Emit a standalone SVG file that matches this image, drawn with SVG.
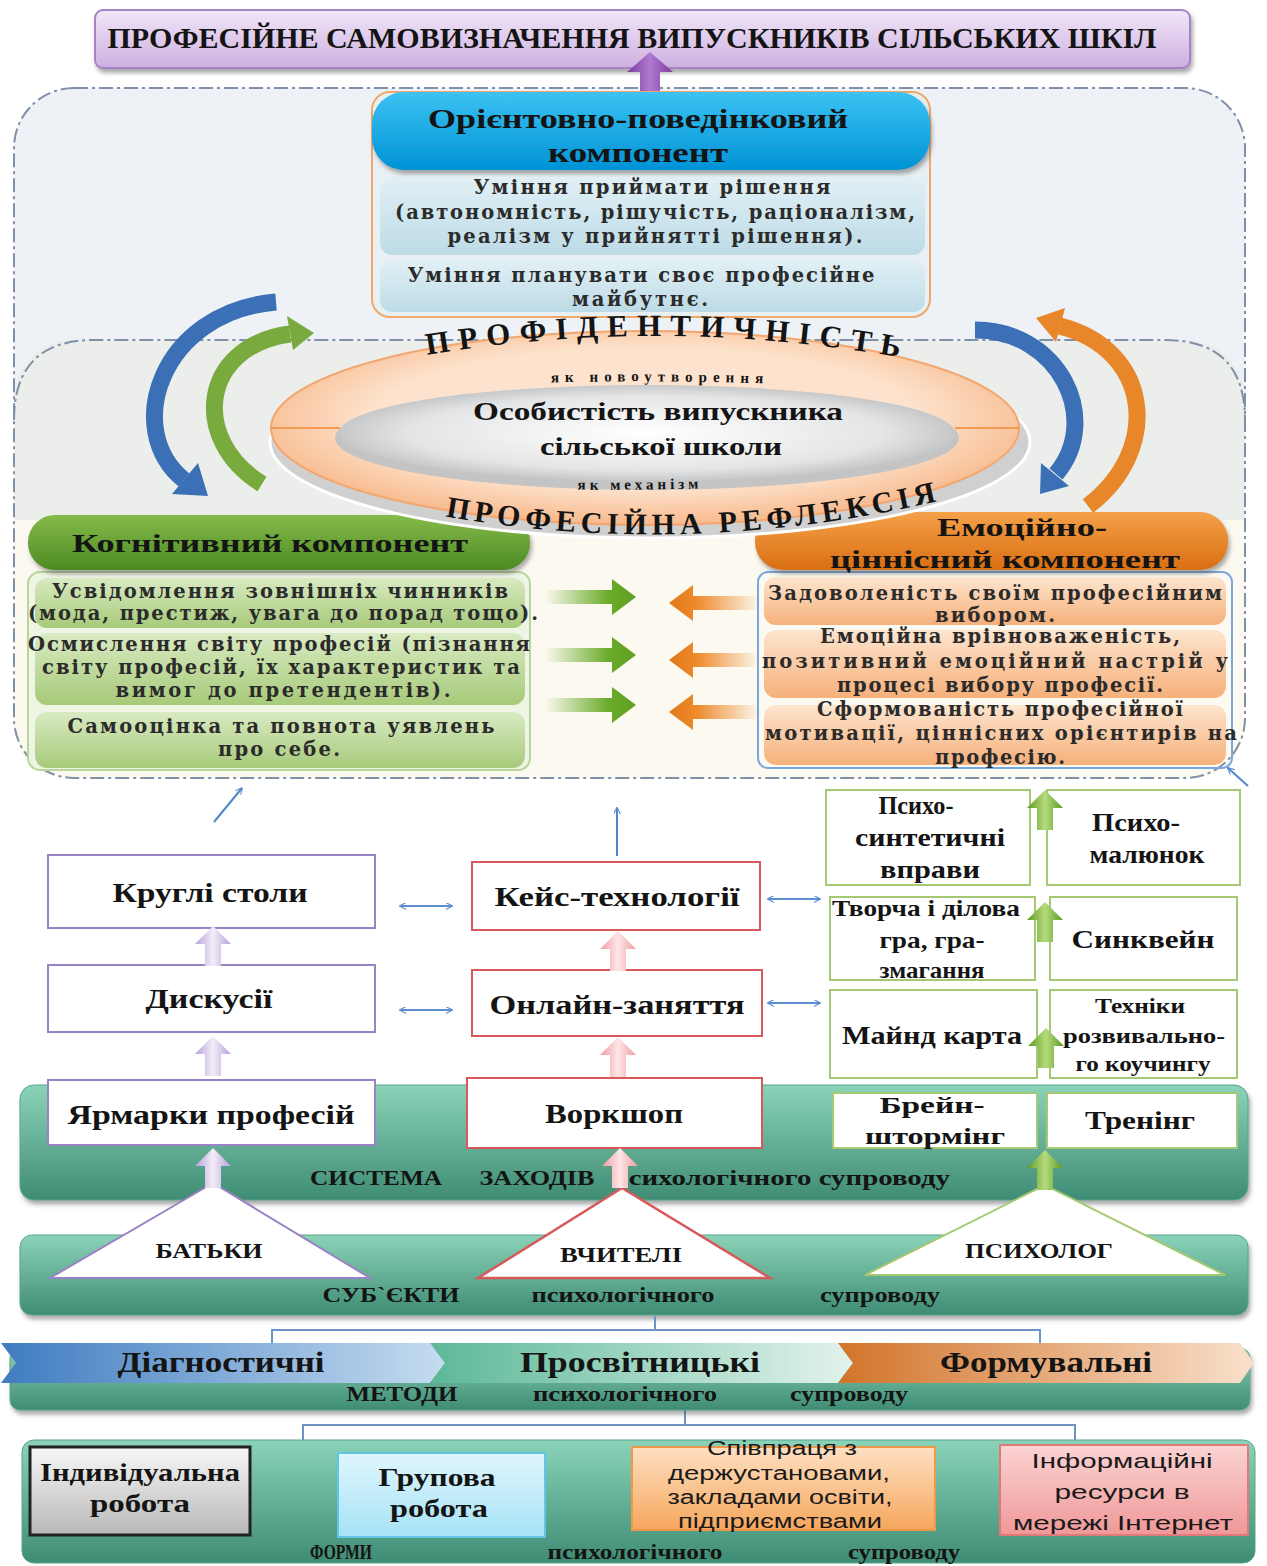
<svg xmlns="http://www.w3.org/2000/svg" xmlns:xlink="http://www.w3.org/1999/xlink" width="1267" height="1566" viewBox="0 0 1267 1566">
<style>
.t{font-family:"Liberation Serif","DejaVu Serif",serif;font-weight:bold;fill:#141414;text-anchor:middle}
.w{font-family:"DejaVu Serif","Liberation Serif",serif;font-weight:bold;fill:#2b2b2b;text-anchor:middle;font-size:19.5px}
.s{font-family:"Liberation Sans","Noto Sans",sans-serif;fill:#1a1a1a;text-anchor:middle}
.box{fill:#fff;stroke-width:2}
.dbl{stroke:#5b8fd0;stroke-width:2;fill:none;marker-start:url(#ah);marker-end:url(#ah)}
.thin{stroke:#4f86c8;stroke-width:2;fill:none;marker-end:url(#ah)}
.brk{stroke:#6f93c4;stroke-width:2;fill:none}
.dash{fill:none;stroke:#7f90a8;stroke-width:2;stroke-dasharray:14 4 3 4}
</style>
<defs>
<marker id="ah" viewBox="0 0 10 10" refX="9" refY="5" markerWidth="7" markerHeight="7" orient="auto-start-reverse" markerUnits="userSpaceOnUse"><path d="M0 0 L10 5 L0 10" fill="none" stroke="#5b8fd0" stroke-width="1.6"/></marker>
<filter id="sh" x="-5%" y="-10%" width="110%" height="130%"><feDropShadow dx="2" dy="4" stdDeviation="2" flood-color="#555" flood-opacity="0.5"/></filter>
<linearGradient id="gTitle" x1="0" y1="0" x2="0" y2="1"><stop offset="0" stop-color="#f1e6f8"/><stop offset="1" stop-color="#cdb0e1"/></linearGradient>
<linearGradient id="gPurple" x1="0" y1="0" x2="1" y2="0"><stop offset="0" stop-color="#7b3c9e"/><stop offset="0.5" stop-color="#b07ad0"/><stop offset="1" stop-color="#7b3c9e"/></linearGradient>
<linearGradient id="gBlueHead" x1="0" y1="0" x2="0" y2="1"><stop offset="0" stop-color="#3cc2f3"/><stop offset="1" stop-color="#0093d5"/></linearGradient>
<linearGradient id="gLightBlue" x1="0" y1="0" x2="0" y2="1"><stop offset="0" stop-color="#e2f0f5"/><stop offset="1" stop-color="#bcdbe7"/></linearGradient>
<radialGradient id="gRing" cx="0.5" cy="0.45" r="0.6"><stop offset="0.6" stop-color="#fde3cd"/><stop offset="1" stop-color="#f6ae7b"/></radialGradient>
<radialGradient id="gCore" cx="0.5" cy="0.5" r="0.55"><stop offset="0" stop-color="#ffffff"/><stop offset="0.7" stop-color="#e4e5e6"/><stop offset="1" stop-color="#b9bbbd"/></radialGradient>
<linearGradient id="gGreenHead" x1="0" y1="0" x2="0" y2="1"><stop offset="0" stop-color="#86bb4a"/><stop offset="1" stop-color="#4b8a22"/></linearGradient>
<linearGradient id="gGreenItem" x1="0" y1="0" x2="0" y2="1"><stop offset="0" stop-color="#d9eac2"/><stop offset="1" stop-color="#a7ca7a"/></linearGradient>
<linearGradient id="gOrangeHead" x1="0" y1="0" x2="0" y2="1"><stop offset="0" stop-color="#f5a14a"/><stop offset="1" stop-color="#d96e12"/></linearGradient>
<linearGradient id="gOrangeItem" x1="0" y1="0" x2="0" y2="1"><stop offset="0" stop-color="#fde5cf"/><stop offset="1" stop-color="#f6b07a"/></linearGradient>
<linearGradient id="gTeal" x1="0" y1="0" x2="0" y2="1"><stop offset="0" stop-color="#8ad3b8"/><stop offset="1" stop-color="#3f8c74"/></linearGradient>
<linearGradient id="gArrG" x1="0" y1="0" x2="1" y2="0"><stop offset="0" stop-color="#6aab2a" stop-opacity="0"/><stop offset="0.7" stop-color="#6aab2a"/><stop offset="1" stop-color="#5f9f22"/></linearGradient>
<linearGradient id="gArrO" x1="1" y1="0" x2="0" y2="0"><stop offset="0" stop-color="#ee8a2c" stop-opacity="0"/><stop offset="0.7" stop-color="#ee8a2c"/><stop offset="1" stop-color="#e07a1a"/></linearGradient>
<linearGradient id="gLav" x1="0" y1="0" x2="1" y2="0"><stop offset="0" stop-color="#b7a0d8"/><stop offset="0.5" stop-color="#f3edf9"/><stop offset="1" stop-color="#b7a0d8"/></linearGradient>
<linearGradient id="gPink" x1="0" y1="0" x2="1" y2="0"><stop offset="0" stop-color="#f19ba0"/><stop offset="0.5" stop-color="#fde6e7"/><stop offset="1" stop-color="#f19ba0"/></linearGradient>
<linearGradient id="gGrn" x1="0" y1="0" x2="1" y2="0"><stop offset="0" stop-color="#5d9a22"/><stop offset="0.5" stop-color="#b5db7c"/><stop offset="1" stop-color="#5d9a22"/></linearGradient>
<linearGradient id="gDiag" x1="0" y1="0" x2="1" y2="0"><stop offset="0" stop-color="#3f7cc0"/><stop offset="1" stop-color="#c5dcf0"/></linearGradient>
<linearGradient id="gProsv" x1="0" y1="0" x2="1" y2="0"><stop offset="0" stop-color="#5cb898"/><stop offset="1" stop-color="#e3f3ec"/></linearGradient>
<linearGradient id="gForm" x1="0" y1="0" x2="1" y2="0"><stop offset="0" stop-color="#d2742a"/><stop offset="1" stop-color="#f9e0cc"/></linearGradient>
<linearGradient id="gGray" x1="0" y1="0" x2="0" y2="1"><stop offset="0" stop-color="#f7f7f7"/><stop offset="1" stop-color="#b8b8b8"/></linearGradient>
<linearGradient id="gCyan" x1="0" y1="0" x2="0" y2="1"><stop offset="0" stop-color="#dff6fd"/><stop offset="1" stop-color="#a6e2f6"/></linearGradient>
<linearGradient id="gOrgBox" x1="0" y1="0" x2="0" y2="1"><stop offset="0" stop-color="#fee0c2"/><stop offset="1" stop-color="#f6a65d"/></linearGradient>
<linearGradient id="gPinkBox" x1="0" y1="0" x2="0" y2="1"><stop offset="0" stop-color="#fbd3d3"/><stop offset="1" stop-color="#f09898"/></linearGradient>
<path id="upA" d="M -8 40 L 8 40 L 8 18 L 18 18 L 0 0 L -18 18 L -8 18 Z"/>
<path id="arcTop" d="M 420 356 Q 665 314 915 360"/>
<path id="arcNov" d="M 470 385 Q 660 377 850 387"/>
<path id="arcMech" d="M 530 489 Q 640 491 750 487"/>
<path id="arcBot" d="M 432 514 Q 690 562 955 497"/>
</defs>

<rect width="1267" height="1566" fill="#ffffff"/>

<g id="panel">
<rect x="14" y="88" width="1231" height="690" rx="60" fill="#eef2f6"/>
<rect x="14" y="340" width="1231" height="438" rx="60" fill="#ebeeea"/>
<path d="M 14 520 L 1245 520 L 1245 718 Q 1245 778 1185 778 L 74 778 Q 14 778 14 718 Z" fill="#fcf9f0"/>
<rect x="14" y="88" width="1231" height="690" rx="60" class="dash"/>
<path d="M 14 420 Q 14 340 94 340 L 1165 340 Q 1245 340 1245 420" class="dash"/>
</g>

<g id="title">
<rect x="95" y="10" width="1095" height="58" rx="8" fill="url(#gTitle)" stroke="#a584c6" stroke-width="2" filter="url(#sh)"/>
<text class="t" x="632" y="48" font-size="29" textLength="1049" lengthAdjust="spacingAndGlyphs">ПРОФЕСІЙНЕ САМОВИЗНАЧЕННЯ ВИПУСКНИКІВ СІЛЬСЬКИХ ШКІЛ</text>
</g>

<g id="connectors">
<path d="M 640 98 L 660 98 L 660 72 L 673 72 L 650 52 L 627 72 L 640 72 Z" fill="url(#gPurple)"/>
<path d="M 276 302 C 160 312 122 430 184 480" fill="none" stroke="#3b70b6" stroke-width="17"/>
<polygon points="172,494 198,463 208,496" fill="#3b70b6"/>
<path d="M 262 484 C 190 440 200 346 290 334" fill="none" stroke="#79aa3e" stroke-width="17"/>
<polygon points="293,350 287,316 314,333" fill="#79aa3e"/>
<path d="M 1088 506 C 1162 450 1152 350 1060 326" fill="none" stroke="#e8862a" stroke-width="17"/>
<polygon points="1065,308 1056,342 1036,318" fill="#e8862a"/>
<path d="M 975 330 C 1060 330 1102 420 1056 474" fill="none" stroke="#3b70b6" stroke-width="17"/>
<polygon points="1069,486 1041,463 1040,494" fill="#3b70b6"/>
<polygon points="545,590 612,590 612,579 636,597 612,615 612,604 545,604" fill="url(#gArrG)"/>
<polygon points="545,648 612,648 612,637 636,655 612,673 612,662 545,662" fill="url(#gArrG)"/>
<polygon points="545,698 612,698 612,687 636,705 612,723 612,712 545,712" fill="url(#gArrG)"/>
<polygon points="760,596 693,596 693,585 669,603 693,621 693,610 760,610" fill="url(#gArrO)"/>
<polygon points="760,653 693,653 693,642 669,660 693,678 693,667 760,667" fill="url(#gArrO)"/>
<polygon points="760,705 693,705 693,694 669,712 693,730 693,719 760,719" fill="url(#gArrO)"/>
<line x1="214" y1="822" x2="242" y2="788" class="thin"/>
<line x1="617" y1="856" x2="617" y2="808" class="thin"/>
<line x1="1248" y1="786" x2="1228" y2="768" class="thin"/>
<line x1="400" y1="906" x2="452" y2="906" class="dbl"/>
<line x1="400" y1="1010" x2="452" y2="1010" class="dbl"/>
<line x1="400" y1="1119" x2="452" y2="1119" class="dbl"/>
<line x1="768" y1="899" x2="820" y2="899" class="dbl"/>
<line x1="768" y1="1003" x2="820" y2="1003" class="dbl"/>
<line x1="768" y1="1117" x2="820" y2="1117" class="dbl"/>
<line x1="268" y1="1490" x2="326" y2="1490" class="dbl"/>
<line x1="560" y1="1493" x2="616" y2="1493" class="dbl"/>
<line x1="940" y1="1490" x2="992" y2="1490" class="dbl"/>
</g>

<g id="orient">
<rect x="372" y="92" width="558" height="225" rx="18" fill="#e8f0f3" stroke="#f0a868" stroke-width="2"/>
<rect x="372" y="92" width="558" height="78" rx="32" fill="url(#gBlueHead)" filter="url(#sh)"/>
<text class="t" x="638" y="128" font-size="27" textLength="420" lengthAdjust="spacingAndGlyphs">Орієнтовно-поведінковий</text>
<text class="t" x="638" y="162" font-size="27" textLength="180" lengthAdjust="spacingAndGlyphs">компонент</text>
<rect x="380" y="177" width="545" height="78" rx="12" fill="url(#gLightBlue)"/>
<text class="w" x="652" y="194" textLength="357">Уміння приймати рішення</text>
<text class="w" x="655" y="219" textLength="520">(автономність, рішучість, раціоналізм,</text>
<text class="w" x="655" y="243" textLength="415">реалізм у прийнятті рішення).</text>
<rect x="380" y="260" width="545" height="52" rx="12" fill="url(#gLightBlue)"/>
<text class="w" x="641" y="282" textLength="467">Уміння планувати своє професійне</text>
<text class="w" x="640" y="306" textLength="136">майбутнє.</text>
</g>

<g id="cognitive">
<rect x="28" y="572" width="502" height="198" rx="12" fill="#eef5e4" stroke="#b9d69a" stroke-width="2"/>
<rect x="28" y="515" width="502" height="55" rx="27" fill="url(#gGreenHead)" filter="url(#sh)"/>
<text class="t" x="270" y="552" font-size="25" textLength="396" lengthAdjust="spacingAndGlyphs">Когнітивний компонент</text>
<rect x="35" y="578" width="490" height="50" rx="12" fill="url(#gGreenItem)"/>
<text class="w" x="280" y="598" textLength="456">Усвідомлення зовнішніх чинників</text>
<text class="w" x="283" y="620" textLength="510">(мода, престиж, увага до порад тощо).</text>
<rect x="35" y="633" width="490" height="72" rx="12" fill="url(#gGreenItem)"/>
<text class="w" x="279" y="651" textLength="502">Осмислення світу професій (пізнання</text>
<text class="w" x="281" y="674" textLength="478">світу професій, їх характеристик та</text>
<text class="w" x="283" y="697" textLength="335">вимог до претендентів).</text>
<rect x="35" y="712" width="490" height="56" rx="12" fill="url(#gGreenItem)"/>
<text class="w" x="281" y="733" textLength="427">Самооцінка та повнота уявлень</text>
<text class="w" x="279" y="756" textLength="122">про себе.</text>
</g>

<g id="emotional">
<rect x="758" y="572" width="474" height="196" rx="10" fill="none" stroke="#7aa7dc" stroke-width="2"/>
<rect x="755" y="512" width="473" height="58" rx="28" fill="url(#gOrangeHead)" filter="url(#sh)"/>
<text class="t" x="1022" y="536" font-size="25" textLength="170" lengthAdjust="spacingAndGlyphs">Емоційно-</text>
<text class="t" x="1005" y="568" font-size="25" textLength="350" lengthAdjust="spacingAndGlyphs">ціннісний компонент</text>
<rect x="764" y="577" width="462" height="48" rx="12" fill="url(#gOrangeItem)"/>
<text class="w" x="995" y="600" textLength="454">Задоволеність своїм професійним</text>
<text class="w" x="995" y="622" textLength="120">вибором.</text>
<rect x="764" y="630" width="462" height="68" rx="12" fill="url(#gOrangeItem)"/>
<text class="w" x="1000" y="643" textLength="360">Емоційна врівноваженість,</text>
<text class="w" x="995" y="668" textLength="466">позитивний емоційний настрій у</text>
<text class="w" x="1000" y="692" textLength="326">процесі вибору професії.</text>
<rect x="764" y="705" width="462" height="60" rx="12" fill="url(#gOrangeItem)"/>
<text class="w" x="1000" y="716" textLength="366">Сформованість професійної</text>
<text class="w" x="1001" y="740" textLength="472">мотивації, ціннісних орієнтирів на</text>
<text class="w" x="1000" y="764" textLength="130">професію.</text>
</g>

<g id="core">
<ellipse cx="650" cy="442" rx="380" ry="96" fill="#d0d0d0" stroke="#ffffff" stroke-width="3"/>
<ellipse cx="645" cy="428" rx="374" ry="97" fill="url(#gRing)" stroke="#f3a66f" stroke-width="2"/>
<line x1="271" y1="428" x2="340" y2="428" stroke="#f39a55" stroke-width="2"/>
<line x1="955" y1="428" x2="1019" y2="428" stroke="#f39a55" stroke-width="2"/>
<ellipse cx="647" cy="438" rx="312" ry="52" fill="#c4c4c4"/>
<ellipse cx="647" cy="433" rx="308" ry="48" fill="url(#gCore)"/>
<text class="t" x="658" y="420" font-size="26" textLength="370" lengthAdjust="spacingAndGlyphs">Особистість випускника</text>
<text class="t" x="661" y="455" font-size="26" textLength="242" lengthAdjust="spacingAndGlyphs">сільської школи</text>
<text class="t" font-size="31" letter-spacing="9"><textPath href="#arcTop" startOffset="50%">ПРОФІДЕНТИЧНІСТЬ</textPath></text>
<text class="t" font-size="15" letter-spacing="6"><textPath href="#arcNov" startOffset="50%">як новоутворення</textPath></text>
<text class="t" font-size="15" letter-spacing="4"><textPath href="#arcMech" startOffset="50%">як механізм</textPath></text>
<text class="t" font-size="30" letter-spacing="5"><textPath href="#arcBot" startOffset="50%">ПРОФЕСІЙНА РЕФЛЕКСІЯ</textPath></text>
</g>

<g id="band-system">
<rect x="20" y="1085" width="1228" height="115" rx="14" fill="url(#gTeal)" stroke="#5aa58a" filter="url(#sh)"/>
<text class="t" x="376" y="1185" font-size="22" textLength="132" lengthAdjust="spacingAndGlyphs">СИСТЕМА</text>
<text class="t" x="537" y="1185" font-size="22" textLength="115" lengthAdjust="spacingAndGlyphs">ЗАХОДІВ</text>
<text class="t" x="781" y="1185" font-size="22" textLength="338" lengthAdjust="spacingAndGlyphs">психологічного супроводу</text>
</g>

<g id="band-subjects">
<rect x="20" y="1235" width="1228" height="80" rx="12" fill="url(#gTeal)" stroke="#5aa58a" filter="url(#sh)"/>
<text class="t" x="391" y="1302" font-size="22" textLength="137" lengthAdjust="spacingAndGlyphs">СУБ`ЄКТИ</text>
<text class="t" x="623" y="1302" font-size="22" textLength="183" lengthAdjust="spacingAndGlyphs">психологічного</text>
<text class="t" x="880" y="1302" font-size="22" textLength="120" lengthAdjust="spacingAndGlyphs">супроводу</text>
</g>

<g id="kruhli"><rect class="box" x="48" y="855" width="327" height="73" stroke="#9a82c6"/><text class="t" x="210" y="902" font-size="27" textLength="195" lengthAdjust="spacingAndGlyphs">Круглі столи</text></g>
<g id="dyskusii"><rect class="box" x="48" y="965" width="327" height="67" stroke="#9a82c6"/><text class="t" x="209" y="1008" font-size="27" textLength="127" lengthAdjust="spacingAndGlyphs">Дискусії</text></g>
<g id="yarmarky"><rect class="box" x="48" y="1080" width="327" height="65" stroke="#9a82c6"/><text class="t" x="211" y="1124" font-size="27" textLength="287" lengthAdjust="spacingAndGlyphs">Ярмарки професій</text></g>
<g id="keis"><rect class="box" x="472" y="862" width="288" height="68" stroke="#d9585a"/><text class="t" x="617" y="906" font-size="27" textLength="245" lengthAdjust="spacingAndGlyphs">Кейс-технології</text></g>
<g id="online"><rect class="box" x="472" y="970" width="290" height="66" stroke="#d9585a"/><text class="t" x="617" y="1014" font-size="27" textLength="255" lengthAdjust="spacingAndGlyphs">Онлайн-заняття</text></g>
<g id="workshop"><rect class="box" x="467" y="1078" width="295" height="70" stroke="#d9585a"/><text class="t" x="614" y="1123" font-size="27" textLength="138" lengthAdjust="spacingAndGlyphs">Воркшоп</text></g>

<g id="psychosynth"><rect class="box" x="826" y="790" width="204" height="95" stroke="#a4c873"/>
<text class="t" x="916" y="814" font-size="25" textLength="75" lengthAdjust="spacingAndGlyphs">Психо-</text>
<text class="t" x="930" y="846" font-size="25" textLength="150" lengthAdjust="spacingAndGlyphs">синтетичні</text>
<text class="t" x="930" y="878" font-size="25" textLength="100" lengthAdjust="spacingAndGlyphs">вправи</text></g>
<g id="psychodraw"><rect class="box" x="1047" y="790" width="193" height="95" stroke="#a4c873"/>
<text class="t" x="1136" y="831" font-size="25" textLength="88" lengthAdjust="spacingAndGlyphs">Психо-</text>
<text class="t" x="1147" y="863" font-size="25" textLength="115" lengthAdjust="spacingAndGlyphs">малюнок</text></g>
<g id="game"><rect class="box" x="830" y="897" width="205" height="83" stroke="#a4c873"/>
<text class="t" x="926" y="916" font-size="23" textLength="188" lengthAdjust="spacingAndGlyphs">Творча і ділова</text>
<text class="t" x="932" y="948" font-size="23" textLength="105" lengthAdjust="spacingAndGlyphs">гра, гра-</text>
<text class="t" x="932" y="978" font-size="23" textLength="105" lengthAdjust="spacingAndGlyphs">змагання</text></g>
<g id="sinkwein"><rect class="box" x="1050" y="897" width="187" height="83" stroke="#a4c873"/>
<text class="t" x="1143" y="948" font-size="25" textLength="143" lengthAdjust="spacingAndGlyphs">Синквейн</text></g>
<g id="mindmap"><rect class="box" x="830" y="990" width="207" height="88" stroke="#a4c873"/>
<text class="t" x="932" y="1044" font-size="25" textLength="180" lengthAdjust="spacingAndGlyphs">Майнд карта</text></g>
<g id="coaching"><rect class="box" x="1050" y="990" width="187" height="88" stroke="#a4c873"/>
<text class="t" x="1140" y="1013" font-size="22" textLength="90" lengthAdjust="spacingAndGlyphs">Техніки</text>
<text class="t" x="1144" y="1043" font-size="22" textLength="162" lengthAdjust="spacingAndGlyphs">розвивально-</text>
<text class="t" x="1143" y="1071" font-size="22" textLength="135" lengthAdjust="spacingAndGlyphs">го коучингу</text></g>
<g id="brainstorm"><rect class="box" x="833" y="1093" width="204" height="55" stroke="#a4c873"/>
<text class="t" x="932" y="1113" font-size="24" textLength="105" lengthAdjust="spacingAndGlyphs">Брейн-</text>
<text class="t" x="935" y="1144" font-size="24" textLength="140" lengthAdjust="spacingAndGlyphs">штормінг</text></g>
<g id="training"><rect class="box" x="1047" y="1093" width="190" height="55" stroke="#a4c873"/>
<text class="t" x="1140" y="1129" font-size="25" textLength="110" lengthAdjust="spacingAndGlyphs">Тренінг</text></g>

<g id="batky"><polygon points="213,1183 50,1278 370,1278" fill="#fff" stroke="#9a82c6" stroke-width="2"/>
<text class="t" x="209" y="1258" font-size="22" textLength="107" lengthAdjust="spacingAndGlyphs">БАТЬКИ</text></g>
<g id="vchyteli"><polygon points="622,1188 478,1278 770,1278" fill="#fff" stroke="#d9585a" stroke-width="2.5"/>
<text class="t" x="621" y="1262" font-size="22" textLength="122" lengthAdjust="spacingAndGlyphs">ВЧИТЕЛІ</text></g>
<g id="psycholog"><polygon points="1045,1185 865,1275 1225,1275" fill="#fff" stroke="#a4c873" stroke-width="2"/>
<text class="t" x="1039" y="1258" font-size="22" textLength="148" lengthAdjust="spacingAndGlyphs">ПСИХОЛОГ</text></g>

<g id="block-arrows">
<use href="#upA" x="213" y="926" fill="url(#gLav)"/>
<use href="#upA" x="213" y="1036" fill="url(#gLav)"/>
<use href="#upA" x="213" y="1148" fill="url(#gLav)"/>
<use href="#upA" x="618" y="931" fill="url(#gPink)"/>
<use href="#upA" x="618" y="1037" fill="url(#gPink)"/>
<use href="#upA" x="620" y="1148" fill="url(#gPink)"/>
<use href="#upA" x="1045" y="790" fill="url(#gGrn)"/>
<use href="#upA" x="1045" y="902" fill="url(#gGrn)"/>
<use href="#upA" x="1046" y="1028" fill="url(#gGrn)"/>
<use href="#upA" x="1045" y="1150" fill="url(#gGrn)"/>
</g>

<g id="brackets">
<path d="M 655 1316 L 655 1330 M 272 1345 L 272 1330 L 1040 1330 L 1040 1345" class="brk"/>
<path d="M 685 1410 L 685 1425 M 303 1445 L 303 1425 L 1075 1425 L 1075 1445" class="brk"/>
</g>

<g id="band-methods">
<rect x="10" y="1348" width="1240" height="62" rx="10" fill="url(#gTeal)" stroke="#5aa58a" filter="url(#sh)"/>
<polygon points="1,1343 430,1343 445,1363 430,1383 1,1383 16,1363" fill="url(#gDiag)"/>
<polygon points="430,1343 838,1343 853,1363 838,1383 430,1383 445,1363" fill="url(#gProsv)"/>
<polygon points="838,1343 1240,1343 1254,1363 1240,1383 838,1383 853,1363" fill="url(#gForm)"/>
<text class="t" x="221" y="1372" font-size="29" textLength="207" lengthAdjust="spacingAndGlyphs">Діагностичні</text>
<text class="t" x="640" y="1372" font-size="29" textLength="240" lengthAdjust="spacingAndGlyphs">Просвітницькі</text>
<text class="t" x="1046" y="1372" font-size="29" textLength="212" lengthAdjust="spacingAndGlyphs">Формувальні</text>
<text class="t" x="402" y="1401" font-size="21" textLength="111" lengthAdjust="spacingAndGlyphs">МЕТОДИ</text>
<text class="t" x="625" y="1401" font-size="21" textLength="184" lengthAdjust="spacingAndGlyphs">психологічного</text>
<text class="t" x="849" y="1401" font-size="21" textLength="118" lengthAdjust="spacingAndGlyphs">супроводу</text>
</g>

<g id="band-forms">
<rect x="22" y="1440" width="1233" height="123" rx="12" fill="url(#gTeal)" stroke="#5aa58a"/>
<text class="t" x="341" y="1559" font-size="20" textLength="62" lengthAdjust="spacingAndGlyphs">ФОРМИ</text>
<text class="t" x="635" y="1559" font-size="20" textLength="175" lengthAdjust="spacingAndGlyphs">психологічного</text>
<text class="t" x="904" y="1559" font-size="20" textLength="112" lengthAdjust="spacingAndGlyphs">супроводу</text>
</g>
<g id="individual"><rect x="30" y="1447" width="220" height="88" fill="url(#gGray)" stroke="#222" stroke-width="3"/>
<text class="t" x="140" y="1481" font-size="25" textLength="200" lengthAdjust="spacingAndGlyphs">Індивідуальна</text>
<text class="t" x="140" y="1512" font-size="25" textLength="100" lengthAdjust="spacingAndGlyphs">робота</text></g>
<g id="group"><rect x="338" y="1453" width="207" height="84" fill="url(#gCyan)" stroke="#5fc6e8" stroke-width="2"/>
<text class="t" x="437" y="1486" font-size="25" textLength="117" lengthAdjust="spacingAndGlyphs">Групова</text>
<text class="t" x="439" y="1517" font-size="25" textLength="98" lengthAdjust="spacingAndGlyphs">робота</text></g>
<g id="cooperation"><rect x="632" y="1447" width="303" height="83" fill="url(#gOrgBox)" stroke="#ef9a4a" stroke-width="2"/>
<text class="s" x="782" y="1455" font-size="20" textLength="150" lengthAdjust="spacingAndGlyphs">Співпраця з</text>
<text class="s" x="779" y="1480" font-size="20" textLength="222" lengthAdjust="spacingAndGlyphs">держустановами,</text>
<text class="s" x="780" y="1504" font-size="20" textLength="225" lengthAdjust="spacingAndGlyphs">закладами освіти,</text>
<text class="s" x="780" y="1528" font-size="20" textLength="204" lengthAdjust="spacingAndGlyphs">підприємствами</text></g>
<g id="internet"><rect x="1000" y="1445" width="248" height="90" fill="url(#gPinkBox)" stroke="#e07a7a" stroke-width="2"/>
<text class="s" x="1122" y="1468" font-size="21" textLength="181" lengthAdjust="spacingAndGlyphs">Інформаційні</text>
<text class="s" x="1122" y="1499" font-size="21" textLength="135" lengthAdjust="spacingAndGlyphs">ресурси в</text>
<text class="s" x="1123" y="1530" font-size="21" textLength="220" lengthAdjust="spacingAndGlyphs">мережі Інтернет</text></g>
</svg>
